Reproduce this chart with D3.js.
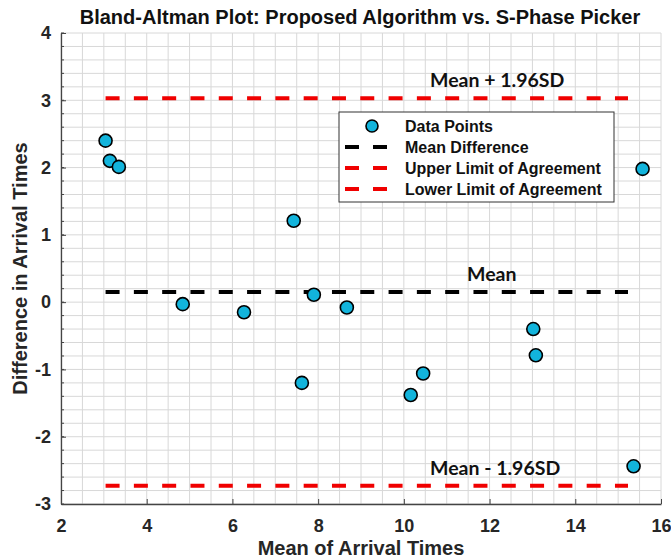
<!DOCTYPE html>
<html>
<head>
<meta charset="utf-8">
<script src="https://cdn.jsdelivr.net/npm/d3@7"></script>
<style>
  html, body { margin: 0; padding: 0; background: #fff; }
  svg { display: block; }
</style>
</head>
<body>
<svg id="chart" width="671" height="559"></svg>
<script>
// Mean of the two arrival-time estimates for each event
const meanTimes = [3.04, 3.14, 3.35, 4.84, 6.27, 7.43, 7.62, 7.90, 8.67, 10.16, 10.45, 13.02, 13.08, 15.36, 15.57];
// Difference (proposed algorithm minus S-phase picker)
const diffTimes = [2.40, 2.10, 2.01, -0.03, -0.15, 1.21, -1.20, 0.11, -0.08, -1.38, -1.06, -0.40, -0.79, -2.44, 1.98];

// Bias and limits of agreement (mean ± 1.96 SD)
const meanDiff = 0.15;
const upperLoA = 3.03;
const lowerLoA = -2.73;
const refLineSpan = [3.04, 15.23];

const xTicks = [2, 4, 6, 8, 10, 12, 14, 16];
const yTicks = [-3, -2, -1, 0, 1, 2, 3, 4];

const legendLabels = ["Data Points", "Mean Difference", "Upper Limit of Agreement", "Lower Limit of Agreement"];

const W = 671, H = 559;
const margin = { top: 33, right: 10, bottom: 55, left: 61 };
const svg = d3.select("#chart");

const x = d3.scaleLinear().domain([2, 16]).range([margin.left, W - margin.right]);
const y = d3.scaleLinear().domain([-3, 4]).range([H - margin.bottom, margin.top]);

const axisFont = "'Liberation Sans', Arial, sans-serif";
const noteFont = "Lato, 'Open Sans', sans-serif";
const gridColor = "#d8d8d8";
const axisColor = "#444";
const pointColor = "#12b4dc";
const tickFmt = d => String(d); // plain hyphen for negatives

// Grid: every 0.5 along x, every 0.2 along y
const grid = svg.append("g");
grid.selectAll("line.gx")
  .data(d3.range(2, 16.001, 0.5))
  .join("line")
  .attr("x1", d => x(d)).attr("x2", d => x(d))
  .attr("y1", y(-3)).attr("y2", y(4))
  .attr("stroke", gridColor).attr("stroke-width", 1);
grid.selectAll("line.gy")
  .data(d3.range(-3, 4.001, 0.2))
  .join("line")
  .attr("x1", x(2)).attr("x2", x(16))
  .attr("y1", d => y(d)).attr("y2", d => y(d))
  .attr("stroke", gridColor).attr("stroke-width", 1);

// Axes with inward ticks
const xAxis = svg.append("g")
  .attr("transform", `translate(0,${y(-3)})`)
  .call(d3.axisBottom(x).tickValues(xTicks).tickSizeInner(-5).tickSizeOuter(0).tickPadding(15).tickFormat(tickFmt));
const yAxis = svg.append("g")
  .attr("transform", `translate(${x(2)},0)`)
  .call(d3.axisLeft(y).tickValues(yTicks).tickSizeInner(-5).tickSizeOuter(0).tickPadding(10).tickFormat(tickFmt));

// Minor ticks on y axis
svg.append("g").selectAll("line")
  .data(d3.range(-3, 4.001, 0.2))
  .join("line")
  .attr("x1", x(2)).attr("x2", x(2) + 3)
  .attr("y1", d => y(d)).attr("y2", d => y(d))
  .attr("stroke", axisColor).attr("stroke-width", 1);

[xAxis, yAxis].forEach(a => {
  a.select(".domain").attr("stroke", axisColor).attr("stroke-width", 1.3);
  a.selectAll(".tick line").attr("stroke", axisColor);
  a.selectAll(".tick text")
    .attr("font-family", axisFont).attr("font-weight", "bold")
    .attr("font-size", 18).attr("fill", "#262626");
});

// Reference lines
const refLines = [
  { v: upperLoA, color: "#f00000" },
  { v: lowerLoA, color: "#f00000" },
  { v: meanDiff, color: "#000" }
];
svg.append("g").selectAll("line")
  .data(refLines)
  .join("line")
  .attr("x1", x(refLineSpan[0])).attr("x2", x(refLineSpan[1]))
  .attr("y1", d => y(d.v)).attr("y2", d => y(d.v))
  .attr("stroke", d => d.color)
  .attr("stroke-width", 4)
  .attr("stroke-dasharray", "14,14.3");

// Data points
svg.append("g").selectAll("circle")
  .data(meanTimes.map((m, i) => [m, diffTimes[i]]))
  .join("circle")
  .attr("cx", d => x(d[0])).attr("cy", d => y(d[1]))
  .attr("r", 6.5)
  .attr("fill", pointColor)
  .attr("stroke", "#000").attr("stroke-width", 1.6);

// Line annotations
const notes = [
  { t: "Mean + 1.96SD", xv: 430, v: upperLoA },
  { t: "Mean", xv: 467, v: meanDiff },
  { t: "Mean - 1.96SD", xv: 430, v: lowerLoA }
];
svg.append("g").selectAll("text")
  .data(notes)
  .join("text")
  .attr("x", d => d.xv)
  .attr("y", d => y(d.v) - 11)
  .attr("font-family", noteFont).attr("font-weight", "bold")
  .attr("font-size", 19.5).attr("fill", "#111")
  .text(d => d.t);

// Legend
const lg = svg.append("g").attr("transform", "translate(339,112)");
lg.append("rect")
  .attr("width", 275).attr("height", 90)
  .attr("fill", "#fff").attr("stroke", "#333").attr("stroke-width", 1);
const rowY = i => 14 + i * 21;
lg.append("circle").attr("cx", 33).attr("cy", rowY(0)).attr("r", 6)
  .attr("fill", pointColor).attr("stroke", "#000").attr("stroke-width", 1.6);
const legendColors = [null, "#000", "#f00000", "#f00000"];
legendColors.forEach((c, i) => {
  if (!c) return;
  lg.append("line")
    .attr("x1", 6).attr("x2", 48)
    .attr("y1", rowY(i)).attr("y2", rowY(i))
    .attr("stroke", c).attr("stroke-width", 4)
    .attr("stroke-dasharray", "14,14");
});
lg.selectAll("text.lbl")
  .data(legendLabels)
  .join("text")
  .attr("x", 66).attr("y", (d, i) => rowY(i) + 6)
  .attr("font-family", axisFont).attr("font-weight", "bold")
  .attr("font-size", 16).attr("fill", "#111")
  .text(d => d);

// Title and axis labels
svg.append("text")
  .attr("x", 360).attr("y", 24)
  .attr("text-anchor", "middle")
  .attr("font-family", axisFont).attr("font-weight", "bold")
  .attr("font-size", 20).attr("fill", "#111")
  .text("Bland-Altman Plot: Proposed Algorithm vs. S-Phase Picker");

svg.append("text")
  .attr("x", 361).attr("y", 555)
  .attr("text-anchor", "middle")
  .attr("font-family", axisFont).attr("font-weight", "bold")
  .attr("font-size", 20).attr("fill", "#262626")
  .text("Mean of Arrival Times");

svg.append("text")
  .attr("transform", `translate(27,${(y(-3) + y(4)) / 2}) rotate(-90)`)
  .attr("text-anchor", "middle")
  .attr("font-family", axisFont).attr("font-weight", "bold")
  .attr("font-size", 20).attr("fill", "#262626")
  .text("Difference in Arrival Times");
</script>
</body>
</html>
